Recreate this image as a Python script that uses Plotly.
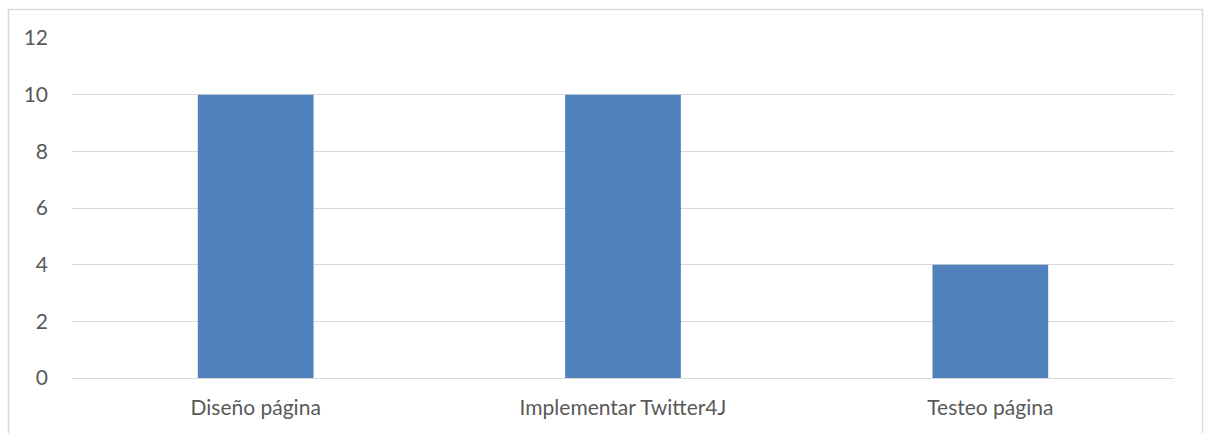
import plotly.graph_objects as go

categories = ["Diseño página", "Implementar Twitter4J", "Testeo página"]
values = [10, 10, 4]
tick_vals = [0, 2, 4, 6, 8, 10, 12]

W, H = 1205, 433
L, R, T, B = 72, 31, 38, 55
pw, ph = W - L - R, H - T - B

def px(x):
    return (x - L) / pw

def py(y):
    return (H - B - y) / ph

fig = go.Figure()
fig.add_trace(go.Bar(x=categories, y=values, marker_color="#4F81BD",
                     marker_line_width=0, width=0.315))

fig.update_layout(
    width=W, height=H,
    margin=dict(l=L, r=R, t=T, b=B),
    paper_bgcolor="white", plot_bgcolor="white",
    font=dict(family="Lato, 'Open Sans', sans-serif", size=21, color="#595959"),
    showlegend=False,
    bargap=0.5,
    shapes=[dict(type="rect", xref="paper", yref="paper",
                 x0=px(8.5), x1=px(1202.5), y0=py(445), y1=py(9.5),
                 line=dict(color="#D9D9D9", width=1.5), fillcolor="rgba(0,0,0,0)",
                 layer="below")],
)
fig.update_xaxes(showgrid=False, showline=True, linecolor="#D9D9D9", linewidth=1,
                 ticks="", tickfont=dict(size=21, color="#595959"), ticklabelstandoff=11)
fig.update_yaxes(range=[0, 12], tickvals=tick_vals, showgrid=True, gridcolor="#D9D9D9",
                 gridwidth=1, zeroline=False, showline=False, ticks="",
                 tickfont=dict(size=21, color="#595959"), ticklabelstandoff=23)

fig.write_html("out.html")
